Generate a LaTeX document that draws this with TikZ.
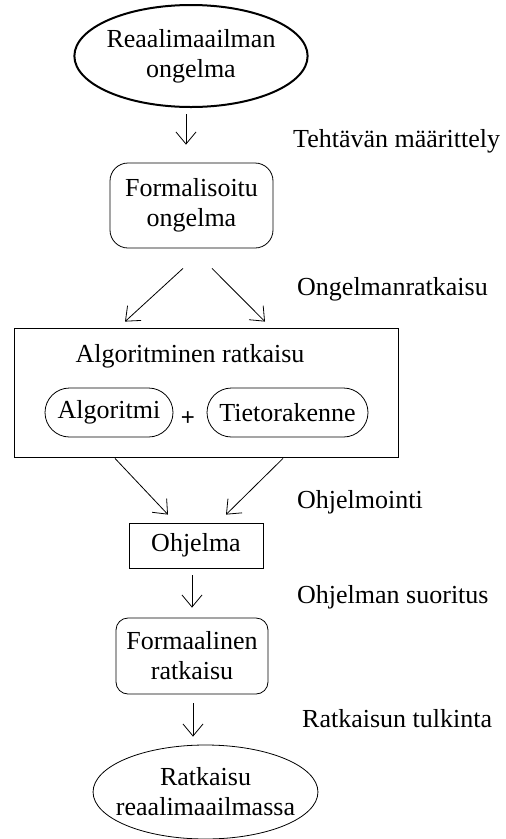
\documentclass[tikz,border=0pt]{standalone}
\usepackage{fontspec}
\setmainfont{Liberation Serif}
\newfontfamily\timesfont{Liberation Serif}
\newfontfamily\helvfont{Liberation Sans}
\usetikzlibrary{shapes.geometric, shapes.misc, arrows.meta, positioning}

\begin{document}
\begin{tikzpicture}[
  x=1pt, y=1pt,
  every node/.style={font=\timesfont\fontsize{26}{30}\selectfont, align=center},
  oval/.style={ellipse, draw, line width=0.8pt, inner ysep=0pt},
  block/.style={rectangle, draw, line width=0.8pt, inner sep=0pt},
  rblock/.style={rectangle, draw, line width=0.8pt, inner sep=0pt, rounded corners=15pt},
  pill/.style={rounded rectangle, draw, line width=0.8pt, inner sep=0pt, minimum height=49pt},
  phase/.style={anchor=base west, inner sep=0pt},
  arrow/.style={-{Straight Barb[length=12pt, width=20pt]}, line width=0.8pt}
]
\useasboundingbox (0,0) rectangle (506,-839);

% Problem
\node[oval, line width=2pt, inner xsep=-2pt, minimum height=102pt] (problem) at (191,-56) {Reaalimaailman\\ongelma};

% Formal problem
\node[rblock, minimum width=163pt, minimum height=85pt, rounded corners=18pt] (formal) at (191.5,-205.5) {Formalisoitu\\ongelma};

% Algorithmic solution
\node[block, minimum width=384pt, minimum height=129pt] (algbox) at (206,-392.5) {};
\node[anchor=base, inner sep=0pt] (algtitle) at (190,-362) {Algoritminen ratkaisu};
\node[pill, minimum width=128pt] (algo) at (109,-412.5) {Algoritmi};
\node[pill, minimum width=161pt] (data) at (287.5,-412.5) {Tietorakenne};
\node[inner sep=0pt, font=\helvfont\fontsize{24}{28}\selectfont] (plus) at (188,-419) {+};

% Program
\node[block, minimum width=134pt, minimum height=45pt] (program) at (196,-545.5) {Ohjelma};

% Formal solution
\node[rblock, minimum width=152pt, minimum height=76pt, rounded corners=12pt] (fsol) at (192,-656) {Formaalinen\\ratkaisu};

% Real solution
\node[oval, inner xsep=-10pt, minimum height=94pt] (rsol) at (205.5,-792) {Ratkaisu\\reaalimaailmassa};

% Phases
\node[phase] (define) at (293,-147) {Tehtävän määrittely};
\node[phase] (solve) at (297,-295) {Ongelmanratkaisu};
\node[phase] (code) at (297,-508) {Ohjelmointi};
\node[phase] (run) at (297,-603) {Ohjelman suoritus};
\node[phase] (interp) at (302,-727) {Ratkaisun tulkinta};

% Arrows
\draw[arrow] ([xshift=-5pt,yshift=-6pt]problem.south) -- ([xshift=-5.5pt,yshift=18pt]formal.north);
\draw[arrow] ([xshift=-8.5pt,yshift=-20pt]formal.south) -- ([xshift=-81pt,yshift=6pt]algbox.north);
\draw[arrow] ([xshift=20.5pt,yshift=-20pt]formal.south) -- ([xshift=59pt,yshift=6pt]algbox.north);
\draw[arrow] ([xshift=-91pt,yshift=-1pt]algbox.south) -- ([xshift=-28pt,yshift=8pt]program.north);
\draw[arrow] ([xshift=77pt,yshift=-1pt]algbox.south) -- ([xshift=30pt,yshift=8pt]program.north);
\draw[arrow] ([yshift=-7pt]program.south -| fsol.north) -- ([yshift=10pt]fsol.north);
\draw[arrow] ([xshift=1pt,yshift=-9pt]fsol.south) -- ([xshift=-12.5pt,yshift=8pt]rsol.north);

\end{tikzpicture}
\end{document}
